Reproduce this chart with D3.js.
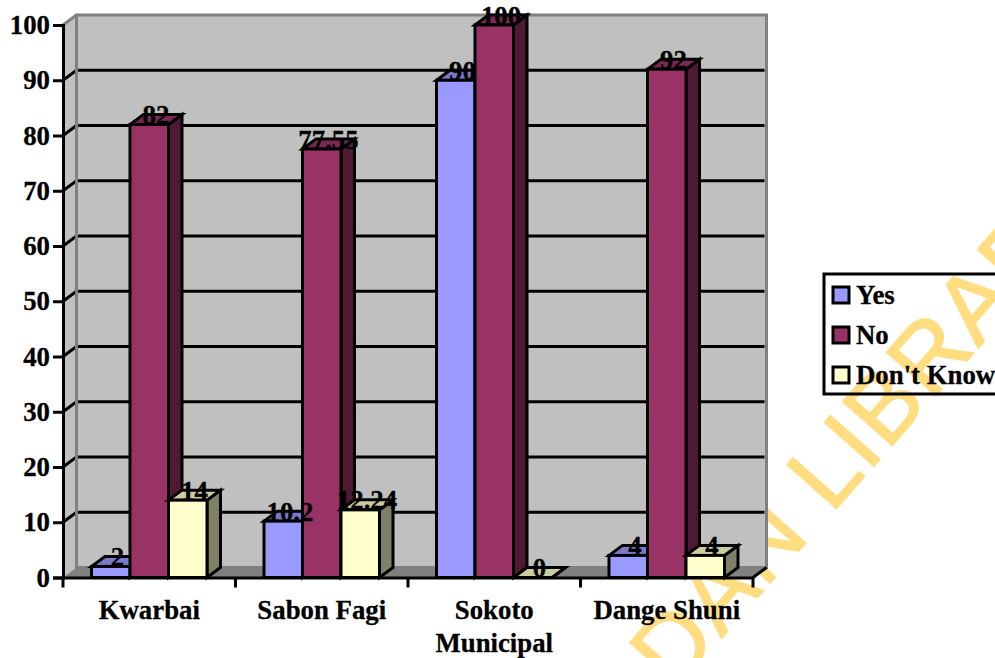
<!DOCTYPE html>
<html>
<head>
<meta charset="utf-8">
<style>
html, body { margin: 0; padding: 0; background: #fff; overflow: hidden; }
svg { display: block; }
text { font-family: "Liberation Serif", "Times New Roman", serif; font-weight: bold; fill: #000; stroke: #000; stroke-width: 0.3px; }
</style>
<script src="https://cdn.jsdelivr.net/npm/d3@7"></script>
</head>
<body>
<svg id="chart" width="995" height="658"></svg>
<script>
// Survey responses by local government area (percent)
const categories = ["Kwarbai", "Sabon Fagi", "Sokoto Municipal", "Dange Shuni"];
const seriesNames = ["Yes", "No", "Don't Know"];
const yesValues = [2, 10.2, 90, 4];
const noValues = [82, 77.55, 100, 92];
const dontKnowValues = [14, 12.24, 0, 4];
const yTicks = [0, 10, 20, 30, 40, 50, 60, 70, 80, 90, 100];

const frontColors = ["#9999FF", "#993366", "#FFFFCC"];
const topColors = ["#7A7ACC", "#7A2952", "#CCCCA3"];
const sideColors = ["#4D4D80", "#4D1933", "#808066"];

const seriesValues = [yesValues, noValues, dontKnowValues];
const FONT = 26.8;
const LINE = 3;
const dx = 13.5, dy = -10;   // oblique depth of the 3D box

const svg = d3.select("#chart");
const x = d3.scaleBand().domain(categories).range([63, 753]).paddingInner(0).paddingOuter(0);
const y = d3.scaleLinear().domain([0, 100]).range([577.5, 25]);
const inner = d3.scaleBand().domain(d3.range(3)).range([28.5, x.bandwidth() - 28.5]);

// Faint library stamp behind the chart
svg.append("text")
  .attr("transform", "translate(674,692) rotate(-48.5)")
  .style("font-family", "'Liberation Sans', Arial, sans-serif").style("font-weight", "normal")
  .style("font-size", "96px").style("letter-spacing", "2px").style("fill", "#FFDD80")
  .style("stroke", "#FFDD80").style("stroke-width", "1.5px")
  .text("DAN LIBRARY");

const poly = pts => pts.map(p => p.join(",")).join(" ");
const x0 = x.range()[0], x1 = x.range()[1], yB = y(0), yT = y(100);

// Walls and floor
svg.append("polygon").attr("points", poly([[x0, yB], [x0 + dx, yB + dy], [x0 + dx, yT + dy], [x0, yT]]))
  .attr("fill", "#C0C0C0");
svg.append("polygon").attr("points", poly([[x0 + dx, yB + dy], [x1 + dx, yB + dy], [x1 + dx, yT + dy], [x0 + dx, yT + dy]]))
  .attr("fill", "#C0C0C0").attr("stroke", "#808080").attr("stroke-width", LINE);
svg.append("polygon").attr("points", poly([[x0, yB], [x1, yB], [x1 + dx, yB + dy], [x0 + dx, yB + dy]]))
  .attr("fill", "#808080");
svg.append("line").attr("x1", x0).attr("y1", yT).attr("x2", x0 + dx).attr("y2", yT + dy)
  .attr("stroke", "#808080").attr("stroke-width", LINE);
svg.append("line").attr("x1", x1).attr("y1", yB).attr("x2", x1 + dx).attr("y2", yB + dy)
  .attr("stroke", "#000").attr("stroke-width", LINE);

// Gridlines run across the back wall and fold down the side wall
const grid = svg.append("g").attr("fill", "none").attr("stroke", "#000").attr("stroke-width", LINE);
grid.selectAll("polyline").data(yTicks.filter(t => t > 0 && t < 100)).join("polyline")
  .attr("points", t => poly([[x0, y(t)], [x0 + dx, y(t) + dy], [x1 + dx - 2, y(t) + dy]]));
svg.append("line").attr("x1", x0 + dx).attr("x2", x0 + dx).attr("y1", yT + dy).attr("y2", yB + dy)
  .attr("stroke", "#808080").attr("stroke-width", LINE);

// Boxes, painted left to right so each one overlaps its neighbour's side
const bars = svg.append("g").attr("stroke", "#000").attr("stroke-width", LINE).attr("stroke-linejoin", "miter");
categories.forEach((cat, c) => {
  seriesValues.forEach((vals, s) => {
    const v = vals[c];
    const l = x(cat) + inner(s), r = l + inner.bandwidth(), t = y(v), b = y(0);
    bars.append("polygon").attr("points", poly([[r, b], [r + dx, b + dy], [r + dx, t + dy], [r, t]])).attr("fill", sideColors[s]);
    bars.append("polygon").attr("points", poly([[l, t], [r, t], [r + dx, t + dy], [l + dx, t + dy]])).attr("fill", topColors[s]);
    bars.append("rect").attr("x", l).attr("y", t).attr("width", r - l).attr("height", b - t).attr("fill", frontColors[s]);
  });
});

// Value axis
const yAxis = d3.axisLeft(y).tickValues(yTicks).tickFormat(d3.format("d")).tickSize(10).tickPadding(3);
const yG = svg.append("g").attr("transform", `translate(${x0},0)`).call(yAxis);
yG.selectAll("path,line").attr("stroke", "#000").attr("stroke-width", LINE);
yG.selectAll("text").style("font-size", FONT + "px").attr("dy", "0.32em");

// Category axis: boundary ticks plus wrapped, centred labels
const xAxis = d3.axisBottom(x).tickSize(0).tickPadding(0);
const xG = svg.append("g").attr("transform", `translate(0,${yB})`).call(xAxis);
xG.select(".domain").attr("stroke", "#000").attr("stroke-width", LINE);
xG.selectAll("g.tick line").remove();
xG.selectAll("line.edge").data(d3.range(5)).join("line").attr("class", "edge")
  .attr("x1", i => x0 + i * x.bandwidth()).attr("x2", i => x0 + i * x.bandwidth())
  .attr("y1", 0).attr("y2", 10).attr("stroke", "#000").attr("stroke-width", LINE);
xG.selectAll("g.tick text").each(function (d) {
  const t = d3.select(this).text(null).attr("y", 0).attr("dy", null).style("font-size", FONT + "px");
  const lines = d === "Sokoto Municipal" ? d.split(" ") : [d];
  lines.forEach((ln, i) => t.append("tspan").attr("x", 0).attr("y", 41 + i * 33.5).text(ln));
});

// Value labels sit on the box tops
const labels = svg.append("g").attr("text-anchor", "middle").style("font-size", FONT + "px");
categories.forEach((cat, c) => {
  seriesValues.forEach((vals, s) => {
    labels.append("text")
      .attr("x", x(cat) + inner(s) + inner.bandwidth() / 2 + dx / 2)
      .attr("y", y(vals[c]) - 0.5)
      .text(vals[c]);
  });
});

// Legend (the frame runs off the right edge)
const lg = svg.append("g");
lg.append("rect").attr("x", 824).attr("y", 274).attr("width", 190).attr("height", 120)
  .attr("fill", "none").attr("stroke", "#000").attr("stroke-width", LINE);
seriesNames.forEach((name, i) => {
  const yy = 287 + i * 40;
  lg.append("rect").attr("x", 833).attr("y", yy).attr("width", 16).attr("height", 16)
    .attr("fill", frontColors[i]).attr("stroke", "#000").attr("stroke-width", LINE);
  lg.append("text").attr("x", 856).attr("y", yy + 17).style("font-size", FONT + "px").text(name);
});
</script>
</body>
</html>
